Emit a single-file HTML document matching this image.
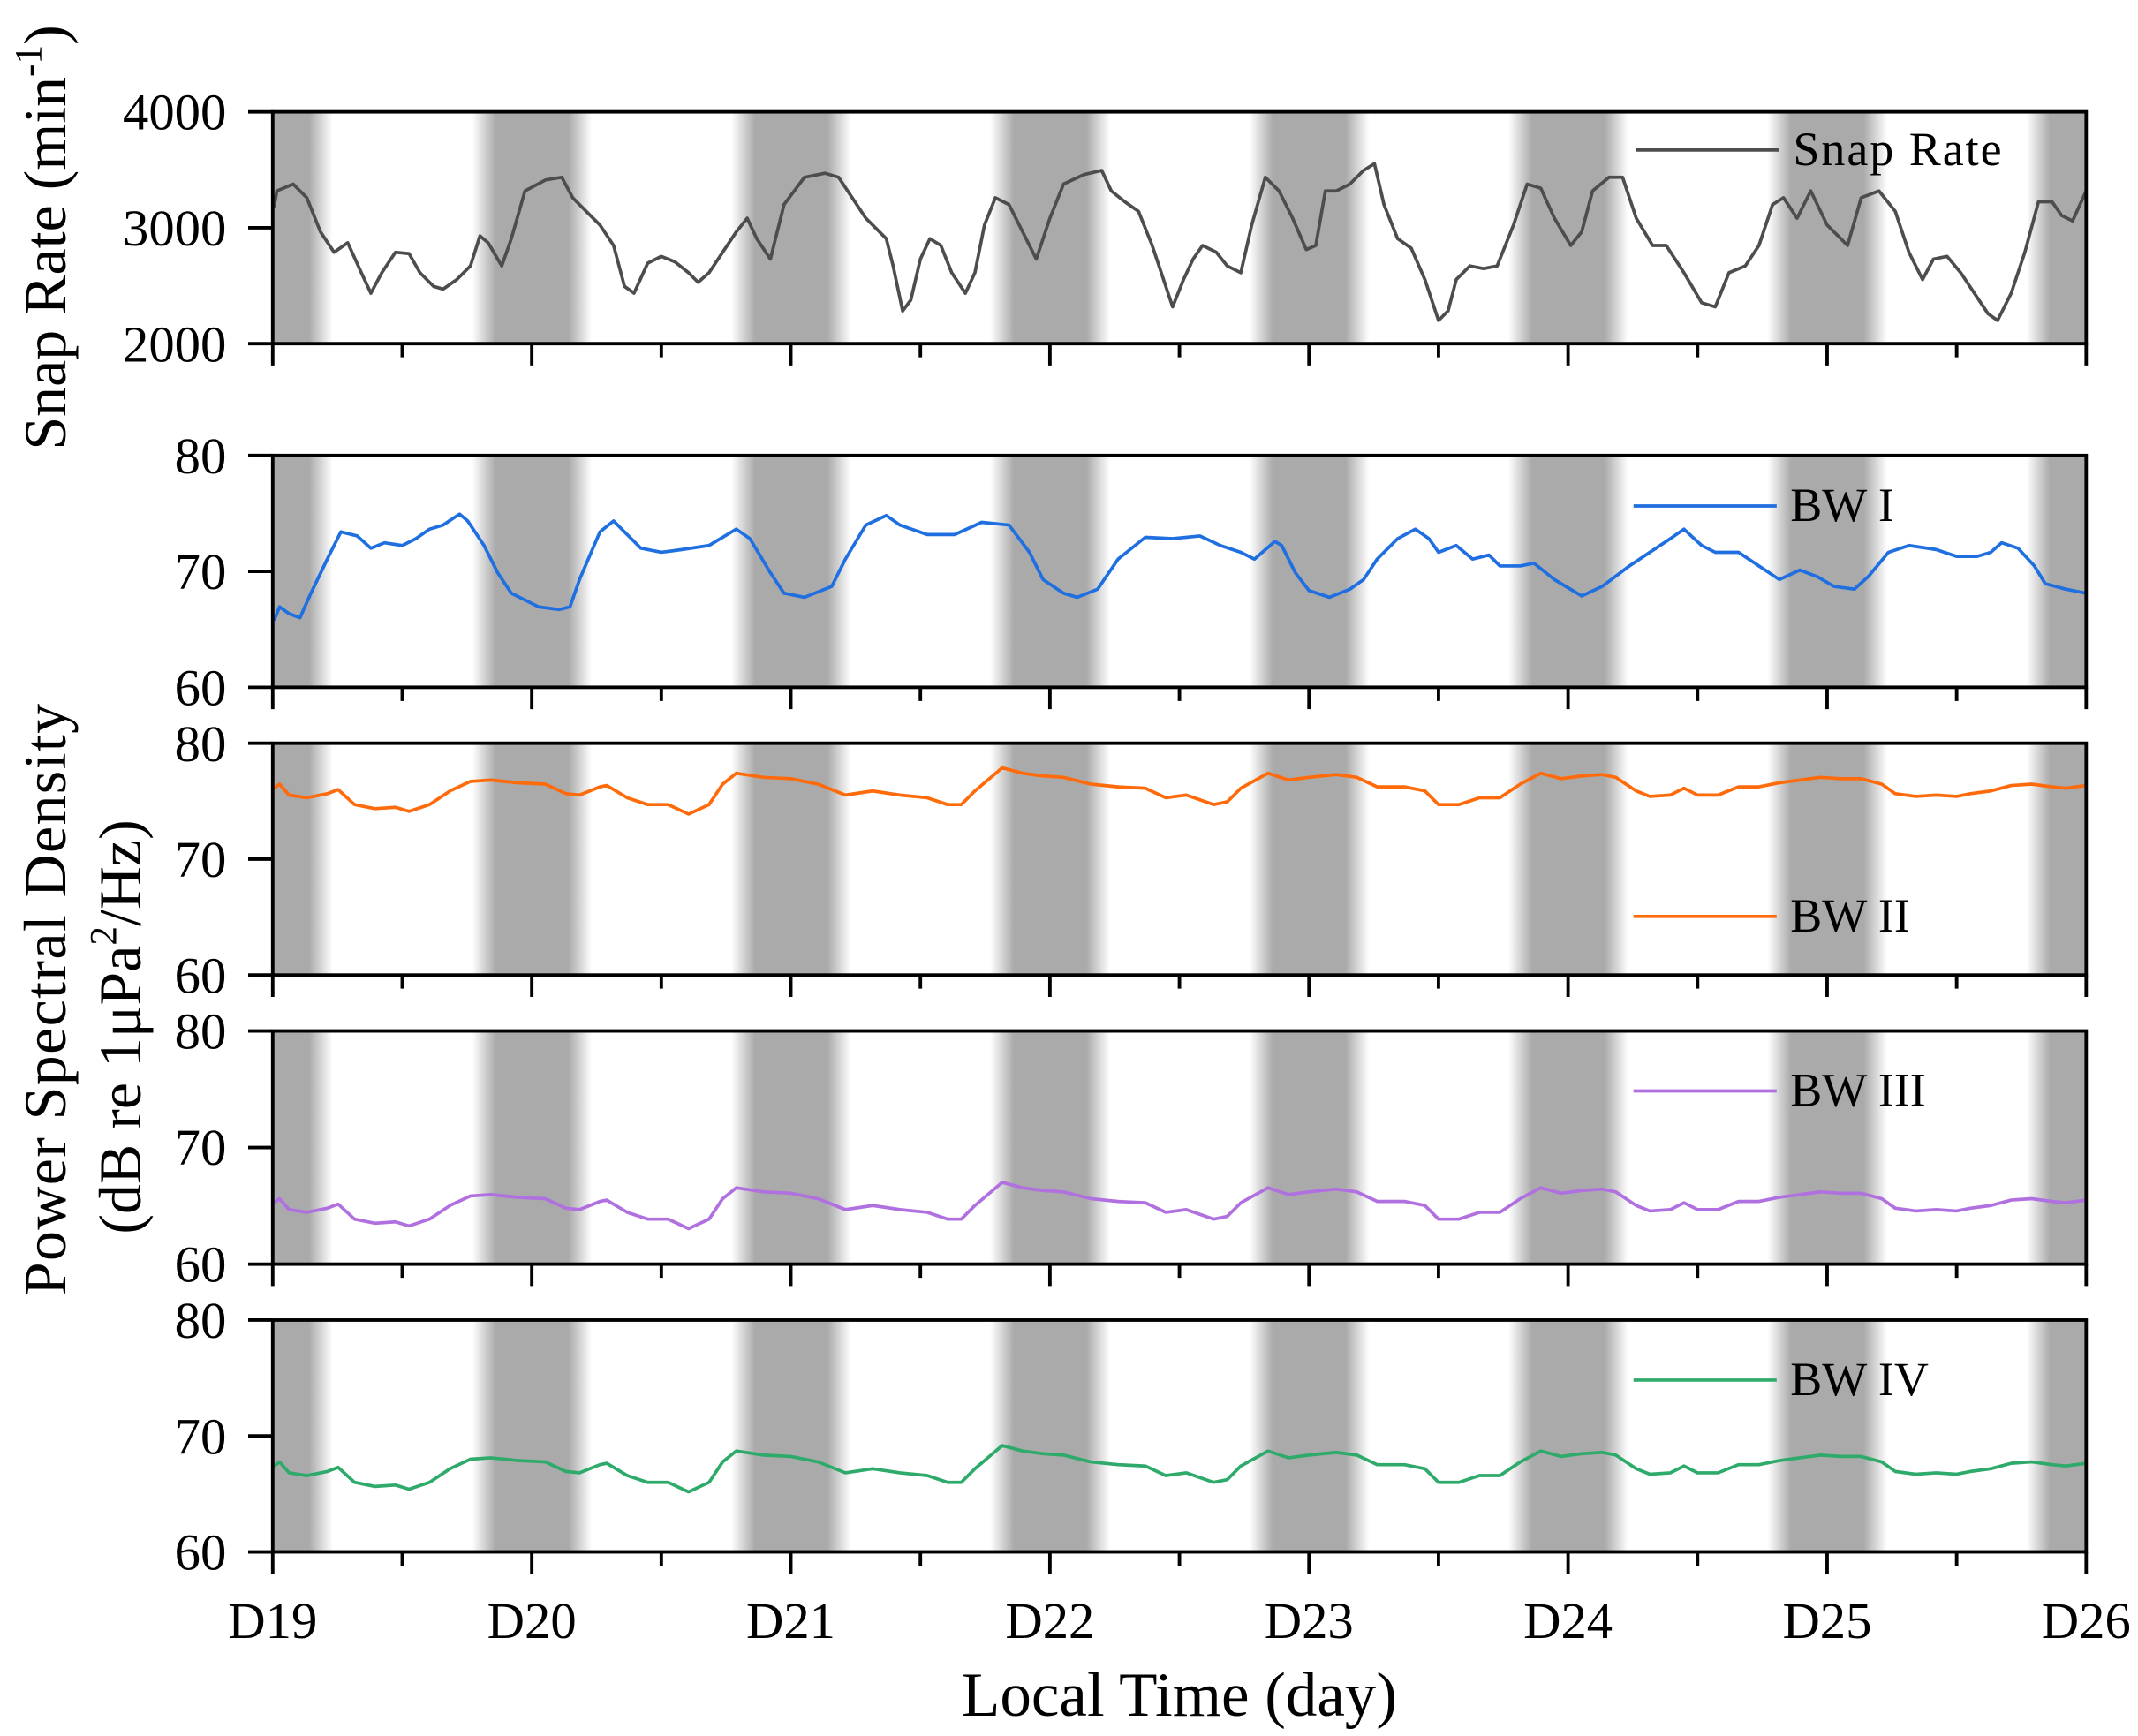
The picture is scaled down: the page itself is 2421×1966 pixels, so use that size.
<!DOCTYPE html>
<html><head><meta charset="utf-8"><style>html,body{margin:0;padding:0;background:#fff}svg{display:block}text{font-family:"Liberation Serif","Times New Roman",serif}</style></head>
<body>
<svg xmlns="http://www.w3.org/2000/svg" width="2421" height="1966" viewBox="0 0 1568 1273" preserveAspectRatio="none" style="font-family:'Liberation Serif',serif">
<defs>
<linearGradient id="g" gradientUnits="userSpaceOnUse" x1="200" y1="0" x2="1530" y2="0">
<stop offset="0" stop-color="#aaa"/>
<stop offset="0.0200" stop-color="#aaa"/><stop offset="0.0330" stop-color="#fff"/>
<stop offset="0.1100" stop-color="#fff"/><stop offset="0.1230" stop-color="#aaa"/><stop offset="0.1630" stop-color="#aaa"/><stop offset="0.1760" stop-color="#fff"/>
<stop offset="0.2529" stop-color="#fff"/><stop offset="0.2659" stop-color="#aaa"/><stop offset="0.3059" stop-color="#aaa"/><stop offset="0.3189" stop-color="#fff"/>
<stop offset="0.3957" stop-color="#fff"/><stop offset="0.4087" stop-color="#aaa"/><stop offset="0.4487" stop-color="#aaa"/><stop offset="0.4617" stop-color="#fff"/>
<stop offset="0.5386" stop-color="#fff"/><stop offset="0.5516" stop-color="#aaa"/><stop offset="0.5916" stop-color="#aaa"/><stop offset="0.6046" stop-color="#fff"/>
<stop offset="0.6814" stop-color="#fff"/><stop offset="0.6944" stop-color="#aaa"/><stop offset="0.7344" stop-color="#aaa"/><stop offset="0.7474" stop-color="#fff"/>
<stop offset="0.8243" stop-color="#fff"/><stop offset="0.8373" stop-color="#aaa"/><stop offset="0.8773" stop-color="#aaa"/><stop offset="0.8903" stop-color="#fff"/>
<stop offset="0.9671" stop-color="#fff"/><stop offset="0.9801" stop-color="#aaa"/><stop offset="1" stop-color="#aaa"/>
</linearGradient>
</defs>
<g fill="url(#g)">
<rect x="200" y="82" width="1330" height="170"/>
<rect x="200" y="334" width="1330" height="170"/>
<rect x="200" y="545" width="1330" height="170"/>
<rect x="200" y="756" width="1330" height="171"/>
<rect x="200" y="968" width="1330" height="170"/>
</g>
<g fill="none" stroke-width="2.4" stroke-linejoin="round">
<polyline stroke="#4d4d4d" points="201,152 203,140 215,135 225,145 235,170 245,185 255,178 265,200 272,215 280,200 290,185 300,186 308,200 318,210 325,212 335,205 345,195 352,173 358,178 368,195 375,175 385,140 400,132 412,130 420,145 430,155 440,165 450,180 458,210 465,215 475,193 485,188 495,192 505,200 512,207 520,200 530,185 540,170 548,160 555,175 565,190 575,150 590,130 605,127 615,130 625,145 635,160 650,175 655,195 662,228 668,220 675,190 682,175 690,180 698,200 708,215 715,200 722,165 730,145 740,150 750,170 760,190 770,160 780,135 795,128 808,125 815,140 825,148 835,155 845,180 855,210 860,225 868,205 875,190 882,180 892,185 900,195 910,200 918,165 928,130 938,140 948,160 958,183 965,180 972,140 980,140 990,135 1000,125 1008,120 1015,150 1025,175 1035,182 1045,205 1055,235 1062,228 1068,205 1078,195 1088,197 1098,195 1110,165 1120,135 1130,138 1140,160 1152,180 1160,170 1168,140 1180,130 1190,130 1200,160 1212,180 1222,180 1235,200 1248,222 1258,225 1268,200 1280,195 1290,180 1300,150 1308,145 1318,160 1328,140 1340,165 1355,180 1365,145 1378,140 1390,155 1400,185 1410,205 1418,190 1428,188 1438,200 1448,215 1458,230 1465,235 1475,215 1485,185 1495,148 1505,148 1512,158 1520,162 1530,140"/>
<polyline stroke="#1f6fe0" points="201,455 205,445 212,450 220,453 228,435 240,410 250,390 262,393 272,402 282,398 295,400 305,395 315,388 325,385 337,377 343,382 355,400 365,420 375,435 385,440 395,445 410,447 418,445 425,425 440,390 450,382 460,392 470,402 485,405 500,403 520,400 540,388 550,395 565,420 575,435 590,438 610,430 620,410 635,385 650,378 660,385 680,392 700,392 720,383 740,385 755,405 765,425 780,435 790,438 805,432 820,410 840,394 860,395 880,393 895,400 910,405 920,410 935,397 940,400 950,420 960,433 975,438 990,432 1000,425 1010,410 1025,395 1038,388 1048,395 1055,405 1068,400 1080,410 1092,407 1100,415 1115,415 1125,413 1140,425 1160,437 1175,430 1195,415 1210,405 1225,395 1235,388 1248,400 1258,405 1275,405 1290,415 1305,425 1320,418 1333,423 1345,430 1360,432 1370,423 1385,405 1400,400 1420,403 1435,408 1450,408 1460,405 1468,398 1480,402 1492,415 1500,428 1515,432 1530,435"/>
<polyline stroke="#ff6a0a" points="201,578 205,575 212,583 225,585 240,582 248,579 260,590 275,593 290,592 300,595 315,590 330,580 345,573 360,572 380,574 400,575 415,582 425,583 440,577 445,576 460,585 475,590 490,590 505,597 520,590 530,575 540,567 560,570 580,571 600,575 620,583 640,580 660,583 680,585 695,590 705,590 715,580 735,563 750,567 765,569 780,570 800,575 820,577 840,578 855,585 870,583 890,590 900,588 910,578 930,567 945,572 960,570 980,568 995,570 1010,577 1030,577 1045,580 1055,590 1070,590 1085,585 1100,585 1115,575 1130,567 1145,571 1160,569 1175,568 1185,570 1200,580 1210,584 1225,583 1235,578 1245,583 1260,583 1275,577 1290,577 1305,574 1320,572 1335,570 1350,571 1365,571 1380,575 1390,582 1405,584 1420,583 1435,584 1445,582 1460,580 1475,576 1490,575 1505,577 1515,578 1530,576"/>
<polyline transform="translate(0,304)" stroke="#b070e0" points="201,578 205,575 212,583 225,585 240,582 248,579 260,590 275,593 290,592 300,595 315,590 330,580 345,573 360,572 380,574 400,575 415,582 425,583 440,577 445,576 460,585 475,590 490,590 505,597 520,590 530,575 540,567 560,570 580,571 600,575 620,583 640,580 660,583 680,585 695,590 705,590 715,580 735,563 750,567 765,569 780,570 800,575 820,577 840,578 855,585 870,583 890,590 900,588 910,578 930,567 945,572 960,570 980,568 995,570 1010,577 1030,577 1045,580 1055,590 1070,590 1085,585 1100,585 1115,575 1130,567 1145,571 1160,569 1175,568 1185,570 1200,580 1210,584 1225,583 1235,578 1245,583 1260,583 1275,577 1290,577 1305,574 1320,572 1335,570 1350,571 1365,571 1380,575 1390,582 1405,584 1420,583 1435,584 1445,582 1460,580 1475,576 1490,575 1505,577 1515,578 1530,576"/>
<polyline transform="translate(0,497)" stroke="#2eaa6a" points="201,578 205,575 212,583 225,585 240,582 248,579 260,590 275,593 290,592 300,595 315,590 330,580 345,573 360,572 380,574 400,575 415,582 425,583 440,577 445,576 460,585 475,590 490,590 505,597 520,590 530,575 540,567 560,570 580,571 600,575 620,583 640,580 660,583 680,585 695,590 705,590 715,580 735,563 750,567 765,569 780,570 800,575 820,577 840,578 855,585 870,583 890,590 900,588 910,578 930,567 945,572 960,570 980,568 995,570 1010,577 1030,577 1045,580 1055,590 1070,590 1085,585 1100,585 1115,575 1130,567 1145,571 1160,569 1175,568 1185,570 1200,580 1210,584 1225,583 1235,578 1245,583 1260,583 1275,577 1290,577 1305,574 1320,572 1335,570 1350,571 1365,571 1380,575 1390,582 1405,584 1420,583 1435,584 1445,582 1460,580 1475,576 1490,575 1505,577 1515,578 1530,576"/>
</g>
<g fill="none" stroke="#000" stroke-width="2.5">
<rect x="200" y="82" width="1330" height="170"/>
<rect x="200" y="334" width="1330" height="170"/>
<rect x="200" y="545" width="1330" height="170"/>
<rect x="200" y="756" width="1330" height="171"/>
<rect x="200" y="968" width="1330" height="170"/>
<path d="M182,82h18M182,167h18M182,252h18M182,334h18M182,419h18M182,504h18M182,545h18M182,630h18M182,715h18M182,756h18M182,841.5h18M182,927h18M182,968h18M182,1053h18M182,1138h18"/>
<path id="tk" d="M200,252v16M295,252v10M390,252v16M485,252v10M580,252v16M675,252v10M770,252v16M865,252v10M960,252v16M1055,252v10M1150,252v16M1245,252v10M1340,252v16M1435,252v10M1530,252v16"/>
<use href="#tk" y="252"/>
<use href="#tk" y="463"/>
<use href="#tk" y="675"/>
<use href="#tk" y="886"/>
</g>
<g stroke-width="2.4">
<line x1="1200" y1="110" x2="1305" y2="110" stroke="#4d4d4d"/>
<line x1="1198" y1="371" x2="1303" y2="371" stroke="#1f6fe0"/>
<line x1="1198" y1="672" x2="1303" y2="672" stroke="#ff6a0a"/>
<line x1="1198" y1="800" x2="1303" y2="800" stroke="#b070e0"/>
<line x1="1198" y1="1012" x2="1303" y2="1012" stroke="#2eaa6a"/>
</g>
<g font-size="35" fill="#000">
<text x="1315" y="121" textLength="153">Snap Rate</text>
<text x="1313" y="382">BW I</text>
<text x="1313" y="683">BW II</text>
<text x="1313" y="811">BW III</text>
<text x="1313" y="1023">BW IV</text>
</g>
<g font-size="38" fill="#000" text-anchor="end">
<text x="166" y="95">4000</text><text x="166" y="180">3000</text><text x="166" y="265">2000</text>
<text x="166" y="347">80</text><text x="166" y="432">70</text><text x="166" y="517">60</text>
<text x="166" y="558">80</text><text x="166" y="643">70</text><text x="166" y="728">60</text>
<text x="166" y="769">80</text><text x="166" y="854">70</text><text x="166" y="940">60</text>
<text x="166" y="981">80</text><text x="166" y="1066">70</text><text x="166" y="1151">60</text>
</g>
<g font-size="38" fill="#000" text-anchor="middle">
<text x="200" y="1201">D19</text><text x="390" y="1201">D20</text><text x="580" y="1201">D21</text><text x="770" y="1201">D22</text><text x="960" y="1201">D23</text><text x="1150" y="1201">D24</text><text x="1340" y="1201">D25</text><text x="1530" y="1201">D26</text>
</g>
<text x="865" y="1258" font-size="46" text-anchor="middle">Local Time (day)</text>
<text transform="translate(48,330) rotate(-90)" font-size="44">Snap Rate (min<tspan font-size="28" dy="-18">-1</tspan><tspan dy="18">)</tspan></text>
<text transform="translate(48,950) rotate(-90)" font-size="44" textLength="434">Power Spectral Density</text>
<text transform="translate(103,905) rotate(-90)" font-size="44">(dB re 1μPa<tspan font-size="28" dy="-18">2</tspan><tspan dy="18">/Hz)</tspan></text>
</svg>
</body></html>
